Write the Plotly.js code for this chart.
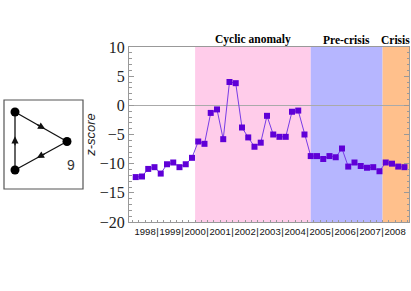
<!DOCTYPE html>
<html><head><meta charset="utf-8">
<script src="https://cdn.plot.ly/plotly-3.0.1.min.js"></script>
<style>html,body{margin:0;padding:0;background:#fff}#g{width:411px;height:291px}</style>
</head><body><div id="g"></div>
<script>
// quarterly time points (mid-quarter, decimal years)
const quarters = [1998.125,1998.375,1998.625,1998.875,1999.125,1999.375,1999.625,1999.875,
 2000.125,2000.375,2000.625,2000.875,2001.125,2001.375,2001.625,2001.875,
 2002.125,2002.375,2002.625,2002.875,2003.125,2003.375,2003.625,2003.875,
 2004.125,2004.375,2004.625,2004.875,2005.125,2005.375,2005.625,2005.875,
 2006.125,2006.375,2006.625,2006.875,2007.125,2007.375,2007.625,2007.875,
 2008.125,2008.375,2008.625,2008.875];
const zscore = [-12.3,-12.2,-10.9,-10.6,-11.7,-10.1,-9.8,-10.6,-10.1,-9.0,
 -6.2,-6.6,-1.3,-0.7,-5.8,4.0,3.8,-3.8,-5.5,-7.1,
 -6.4,-1.8,-5.0,-5.4,-5.4,-1.1,-0.9,-5.0,-8.7,-8.7,
 -9.2,-8.7,-8.9,-7.4,-10.5,-9.8,-10.4,-10.7,-10.6,-11.3,
 -9.8,-10.0,-10.5,-10.6];
const years = ['1998','1999','2000','2001','2002','2003','2004','2005','2006','2007','2008'];
const phaseNames = ['Cyclic anomaly','Pre-crisis','Crisis'];
const phaseStart = [2000.5, 2005.125, 2008.0];
const phaseEnd = [2005.125, 2008.0, 2009.056];
const phaseColors = ['rgb(255,204,234)','rgb(182,182,255)','rgb(255,192,140)'];
const motifLabel = '9';

const W=411,H=291,L=129,R=2,T=47,B=69;
const pw=W-L-R, ph=H-T-B;
const px = x => (x-L)/pw;
const py = y => (H-B-y)/ph;

const tickvals=[], ticktext=[];
years.forEach((y,i)=>{ const v=+y; tickvals.push(v+0.5); ticktext.push(y); if(i>0){tickvals.push(v); ticktext.push('|');} });

const shapes=[];
phaseStart.forEach((s,i)=>shapes.push({type:'rect',xref:'x',yref:'paper',x0:s,x1:phaseEnd[i],y0:0,y1:1,fillcolor:phaseColors[i],line:{width:0},layer:'below'}));
const annotations=phaseNames.map((n,i)=>({xref:'x',yref:'paper',x:(phaseStart[i]+phaseEnd[i])/2,y:1,yanchor:'bottom',yshift:-1,text:'<b>'+n+'</b>',showarrow:false,font:{family:'Liberation Serif',size:11.5,color:'#000'}}));

// motif inset (pixel geometry)
shapes.push({type:'rect',xref:'paper',yref:'paper',x0:px(4),x1:px(83),y0:py(189),y1:py(100),line:{color:'#555',width:1.2},fillcolor:'rgba(0,0,0,0)'});
const nodes=[[15,112],[67,141.5],[15,170]];
const edges=[[0,1],[1,2],[2,0]];
edges.forEach(([a,b])=>shapes.push({type:'line',xref:'paper',yref:'paper',x0:px(nodes[a][0]),y0:py(nodes[a][1]),x1:px(nodes[b][0]),y1:py(nodes[b][1]),line:{color:'#111',width:1.3}}));
nodes.forEach(([x,y])=>shapes.push({type:'circle',xref:'paper',yref:'paper',x0:px(x-4.5),x1:px(x+4.5),y0:py(y+4.5),y1:py(y-4.5),fillcolor:'#000',line:{width:0}}));
edges.forEach(([a,b])=>{
  const [x1,y1]=nodes[a],[x2,y2]=nodes[b];
  const hx=x1+(x2-x1)*0.58, hy=y1+(y2-y1)*0.58;
  const tx=x1+(x2-x1)*0.40, ty=y1+(y2-y1)*0.40;
  annotations.push({xref:'paper',yref:'paper',x:px(hx),y:py(hy),ax:tx-hx,ay:ty-hy,text:'',showarrow:true,arrowhead:2,arrowsize:1.1,arrowwidth:1.3,arrowcolor:'#111',standoff:0,startstandoff:0});
});
annotations.push({xref:'paper',yref:'paper',x:px(65),y:py(175),text:motifLabel,showarrow:false,font:{family:'Liberation Sans',size:14,color:'#333'}});

Plotly.newPlot('g',[{x:quarters,y:zscore,type:'scatter',mode:'lines+markers',
  line:{color:'rgb(120,60,230)',width:1},marker:{symbol:'square',size:6,color:'rgb(95,0,215)'},cliponaxis:false}],
 {width:W,height:H,margin:{l:L,r:R,t:T,b:B},paper_bgcolor:'#fff',plot_bgcolor:'#fff',showlegend:false,
  xaxis:{range:[1997.856,2009.056],tickmode:'array',tickvals:tickvals,ticktext:ticktext,tickangle:0,ticks:'',showgrid:false,zeroline:false,
    showline:true,linecolor:'#999',linewidth:1,mirror:true,tickfont:{family:'Liberation Sans',size:9.5,color:'#111'},ticklabelstandoff:1,
    minor:{ticks:'inside',tick0:1998,dtick:0.25,ticklen:2,tickcolor:'#999',showgrid:false}},
  yaxis:{range:[-20,10],tickmode:'linear',tick0:-20,dtick:5,ticks:'inside',ticklen:5,tickcolor:'#999',showgrid:false,
    zeroline:true,zerolinecolor:'#aaa',zerolinewidth:1,showline:true,linecolor:'#999',linewidth:1,mirror:'ticks',
    tickfont:{family:'Liberation Serif',size:16,color:'#222'},
    minor:{ticks:'inside',dtick:1,ticklen:2.5,tickcolor:'#999',showgrid:false},
    title:{text:'z-score',standoff:1,font:{family:'Liberation Sans',size:13,color:'#222',style:'italic'}}},
  shapes:shapes,annotations:annotations},{staticPlot:true});
</script></body></html>
